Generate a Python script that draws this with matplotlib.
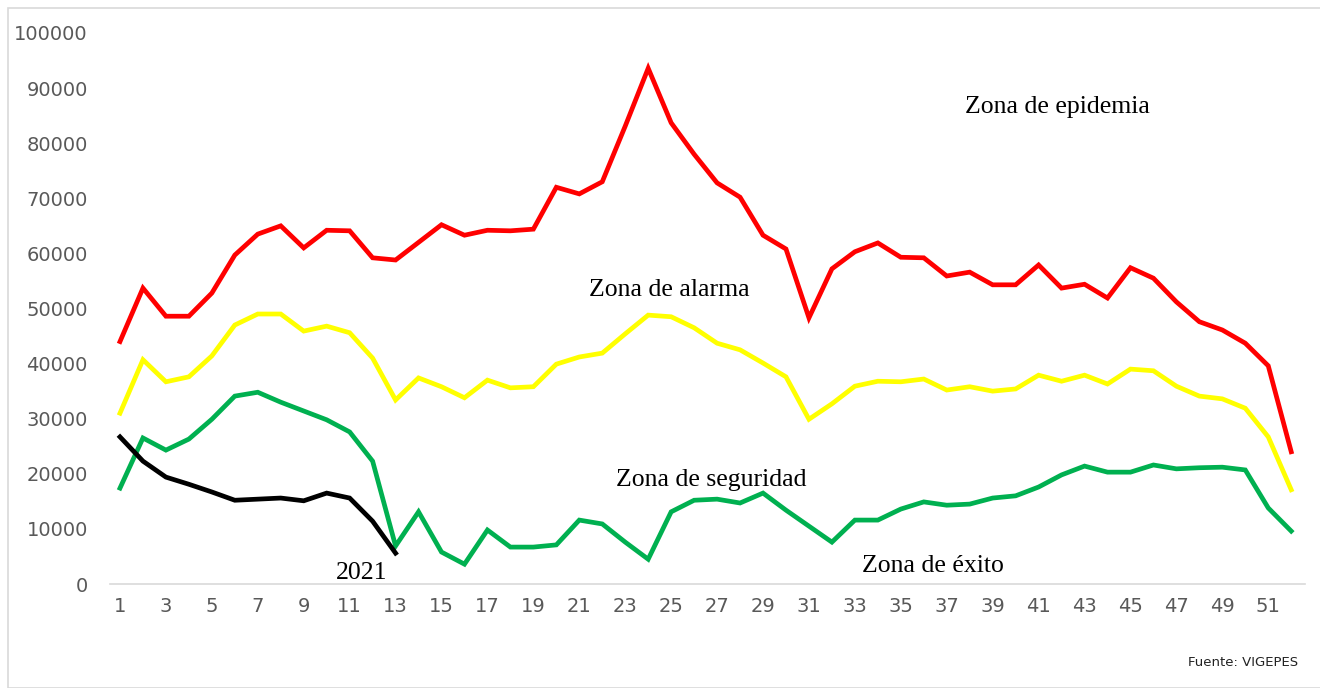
"""
Canal endemico - semanas epidemiologicas
"""
from matplotlib import pyplot as plt
from matplotlib.patches import Rectangle
import numpy as np

weeks = np.arange(1, 53)

epidemia = [44000, 53700, 48600, 48600, 52800, 59700, 63500, 65000, 61000, 64200,
            64100, 59200, 58800, 62000, 65200, 63300, 64200, 64100, 64400, 72000,
            70800, 73000, 83100, 93600, 83700, 78000, 72800, 70200, 63300, 60800,
            48300, 57200, 60300, 61900, 59300, 59200, 55900, 56600, 54300, 54300,
            57900, 53700, 54400, 51900, 57400, 55500, 51200, 47600, 46100, 43700,
            39600, 24000]

alarma = [31000, 40700, 36700, 37600, 41400, 47000, 49000, 49000, 45900, 46800,
          45600, 41000, 33400, 37400, 35800, 33800, 37000, 35600, 35800, 39900,
          41200, 41900, 45400, 48800, 48500, 46500, 43700, 42500, 40100, 37600,
          29900, 32700, 35900, 36800, 36700, 37200, 35200, 35800, 35000, 35400,
          37900, 36800, 37900, 36300, 39000, 38700, 35900, 34100, 33600, 31900,
          26700, 17100]

seguridad = [17400, 26500, 24300, 26300, 29900, 34100, 34800, 33000, 31400, 29800,
             27600, 22300, 6900, 13100, 5800, 3600, 9800, 6700, 6700, 7100,
             11600, 10900, 7600, 4500, 13100, 15200, 15400, 14700, 16500, 13400,
             10500, 7600, 11600, 11600, 13600, 14900, 14300, 14500, 15600, 16000,
             17600, 19800, 21400, 20300, 20300, 21600, 20900, 21100, 21200, 20700,
             13800, 9600]

y2021 = [26700, 22300, 19400, 18100, 16700, 15200, 15400, 15600, 15100, 16500,
         15600, 11400, 5600]

W, H = 1320, 688
fig = plt.figure(figsize=(W / 100, H / 100), dpi=100)
ax = fig.add_axes([110 / W, (H - 584) / H, 1195 / W, 551 / H])

lw = 3.4
ax.plot(weeks, epidemia, color='#FF0000', lw=lw, solid_joinstyle='miter')
ax.plot(weeks, alarma, color='#FFFF00', lw=lw, solid_joinstyle='miter')
ax.plot(weeks, seguridad, color='#00B050', lw=lw, solid_joinstyle='miter')
ax.plot(weeks[:len(y2021)], y2021, color='black', lw=lw, solid_joinstyle='miter')

ax.set_xlim(0.565, 52.6)
ax.set_ylim(0, 100000)
ax.set_xticks(np.arange(1, 53, 2))
ax.set_yticks(np.arange(0, 100001, 10000))
ax.tick_params(length=0, labelsize=14, labelcolor='#595959')
ax.tick_params(axis='x', pad=9)
ax.tick_params(axis='y', pad=16)
for s in ['top', 'right', 'left']:
    ax.spines[s].set_visible(False)
ax.spines['bottom'].set_color('#d9d9d9')
ax.spines['bottom'].set_linewidth(1.2)

serif = 'Liberation Serif'
fs = 18.5
fig.text(1057 / W, 1 - 107 / H, 'Zona de epidemia', family=serif, fontsize=fs,
         ha='center', va='center')
fig.text(669 / W, 1 - 290 / H, 'Zona de alarma', family=serif, fontsize=fs,
         ha='center', va='center')
fig.text(711 / W, 1 - 480 / H, 'Zona de seguridad', family=serif, fontsize=fs,
         ha='center', va='center')
fig.text(933 / W, 1 - 566 / H, 'Zona de éxito', family=serif, fontsize=fs,
         ha='center', va='center')
fig.text(362 / W, 1 - 573 / H, '2021', family=serif, fontsize=fs,
         ha='center', va='center')
fig.text(1243 / W, 1 - 663 / H, 'Fuente: VIGEPES', fontsize=9.5,
         ha='center', va='center', color='#222222')

# marco gris alrededor
fig.patches.append(Rectangle((8 / W, 0), 1.2, 1 - 8 / H, transform=fig.transFigure,
                             fill=False, edgecolor='#d9d9d9', lw=1.2))

fig.savefig('out.png', dpi=100)
